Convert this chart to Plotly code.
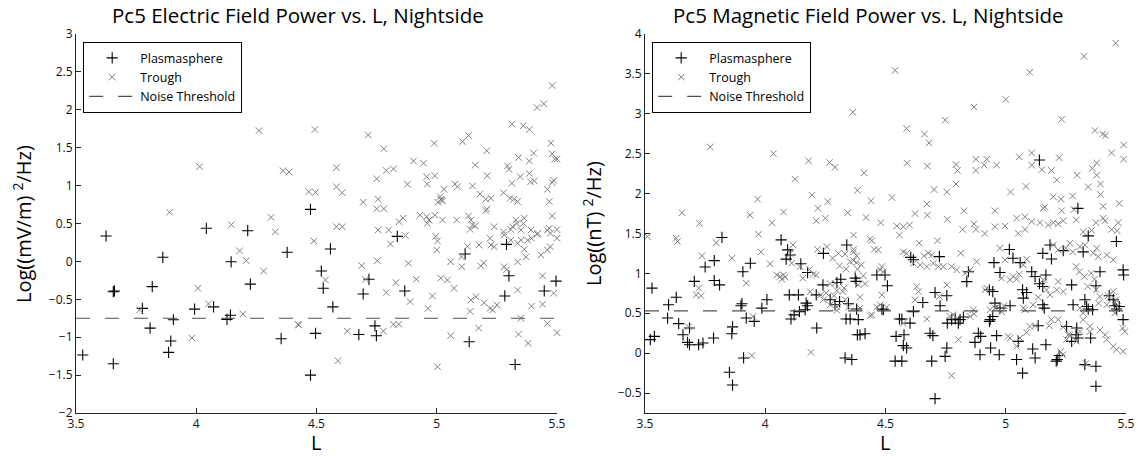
import plotly.graph_objects as go

# ---------------- data ----------------
# Electric field power, plasmasphere events: L shell and log10 power
e_plasma_L = [3.625, 3.655, 3.66, 3.861, 3.817, 3.776, 3.808, 3.905, 3.894, 3.885, 3.528, 3.655,
              3.993, 4.042, 4.072, 4.128, 4.142, 4.145, 4.214, 4.225, 4.378, 4.353, 4.475, 4.836,
              4.558, 4.52, 4.528, 4.568, 4.496, 4.475, 4.718, 4.694, 4.676, 4.743, 4.749, 4.867,
              5.118, 5.135, 5.29, 5.30, 5.283, 5.326, 5.447, 5.496]
e_plasma_pow = [0.335, -0.40, -0.39, 0.054, -0.333, -0.62, -0.88, -0.77, -1.05, -1.2, -1.235, -1.35,
                -0.63, 0.437, -0.60, -0.765, -0.71, -0.005, 0.405, -0.30, 0.12, -1.02, 0.687, 0.33,
                0.164, -0.127, -0.355, -0.60, -0.95, -1.5, -0.236, -0.43, -0.965, -0.85, -0.98, -0.39,
                0.098, -1.06, 0.225, -0.19, -0.456, -1.36, -0.39, -0.26]

# Electric field power, trough events
e_trough_L = [3.764, 4.007, 3.982, 4.051, 4.146, 4.18, 4.208, 4.194, 4.28, 4.329, 4.311, 4.424, 3.889,
              4.014, 4.261, 4.361, 4.386, 4.493, 4.715, 4.78, 4.989, 5.107, 5.132, 5.208, 5.3125, 5.36,
              5.385, 5.417, 5.445, 5.48, 5.475, 5.48, 5.49, 5.5, 5.403, 5.385, 5.34, 5.294, 5.30, 5.21,
              5.16, 4.903, 4.945, 4.583, 4.79, 4.82, 4.75, 4.878, 4.958, 4.992, 4.961, 5.03, 5.014,
              5.02, 5.076, 5.086, 5.149, 5.18, 5.204, 5.225, 5.204, 5.208, 5.278, 5.305, 5.32, 5.336,
              5.3125, 5.347, 5.385, 5.39, 5.406, 5.46, 5.48, 5.486, 5.468, 5.48, 5.468, 5.5, 4.468,
              4.496, 4.583, 4.607, 4.583, 4.607, 4.694, 4.756, 4.75, 4.78, 4.756, 4.80, 4.843, 4.86,
              4.93, 4.958, 4.968, 4.992, 4.961, 5.024, 5.083, 5.005, 5.017, 5.024, 5.132, 5.142, 5.149,
              5.16, 5.139, 5.239, 5.278, 5.308, 5.329, 5.364, 5.35, 5.392, 5.42, 5.46, 5.472,
              4.489, 4.688, 4.753, 4.704, 4.537, 4.808, 4.87, 4.83, 4.915, 4.79, 4.889, 4.882, 4.982,
              4.964, 4.996, 5.003, 5.0, 5.017, 5.044, 5.072, 5.058, 5.103, 5.104, 5.128, 5.176, 5.195,
              5.183, 5.222, 5.225, 5.239, 5.142, 5.163, 5.139, 5.197, 5.222, 5.232, 5.25, 5.174, 5.058,
              5.003, 5.28, 5.315, 5.333, 5.36, 5.308, 5.336, 5.35, 5.378, 5.394, 5.417, 5.472, 5.46,
              5.5, 5.433, 5.364, 5.371, 5.336, 5.28, 5.29, 5.336, 5.394, 5.44, 5.44, 5.486, 5.35, 5.46,
              5.5, 5.34, 5.38, 4.426, 4.628, 4.589, 4.778, 4.82, 4.843]
e_trough_pow = [-0.64, -0.355, -1.01, -0.56, 0.485, 0.14, 0.01, -0.694, -0.127, 0.39, 0.58, -0.83, 0.648,
                1.25, 1.725, 1.197, 1.18, 1.74, 1.667, 1.487, 1.558, 1.58, 1.66, 1.46, 1.81, 1.79,
                1.74, 2.03, 2.08, 2.32, 1.56, 1.42, 1.35, 1.35, 1.43, 1.325, 1.37, 1.26, 1.215, 1.13,
                1.27, 1.325, 1.295, 1.236, 1.2, 1.22, 1.09, 1.017, 1.117, 1.13, 1.02, 0.95, 0.854,
                0.81, 1.02, 0.985, 0.995, 0.89, 0.82, 0.833, 0.67, 0.69, 0.906, 0.832, 0.82, 0.79,
                1.03, 1.117, 1.16, 1.05, 1.06, 0.95, 1.04, 1.07, 0.79, 0.60, 0.437, 0.42, 0.92,
                0.91, 0.985, 0.906, 0.458, 0.458, 0.78, 0.82, 0.695, 0.695, 0.414, 0.414, 0.524, 0.57,
                0.61, 0.59, 0.546, 0.61, 0.503, 0.546, 0.546, 0.78, 0.82, 0.797, 0.60, 0.546, 0.48,
                0.467, 0.423, 0.458, 0.39, 0.42, 0.546, 0.57, 0.414, 0.414, 0.37, 0.414, 0.37,
                0.27, -0.057, 0.01, -0.236, -0.245, 0.23, 0.34, -0.28, -0.236, -0.41, -0.53, -0.025, -0.456,
                -0.62, 0.33, 0.27, 0.15, -0.22, -0.245, -0.355, -0.005, 0.06, -0.07, 0.2, 0.216, -0.02,
                -0.06, 0.305, 0.216, 0.194, -0.51, -0.466, -0.66, -0.545, -0.62, -0.64, -0.575, -0.88, -0.98,
                -1.39, 0.35, 0.458, 0.50, 0.50, 0.28, 0.24, 0.28, 0.28, 0.305, 0.36, 0.194, 0.15,
                0.305, 0.085, 0.16, 0.06, -0.005, -0.07, -0.11, -0.377, -0.59, -0.566, -0.19, -0.42, -0.75, -0.82,
                -0.94, -0.96, -1.08, -0.84, -0.92, -1.31, -0.92, -0.83, -0.83]

# Magnetic field power, plasmasphere events
b_plasma_L = [3.82, 4.066, 5.14, 5.30, 5.343, 5.46,
              3.529, 3.522, 3.539, 3.598, 3.63, 3.594, 3.64, 3.658, 3.685, 3.677, 3.685, 3.723, 3.741,
              3.705, 3.75, 3.788, 3.788, 3.81, 3.785, 3.864, 3.861, 3.851, 3.864, 3.907, 3.938, 3.903,
              3.899, 3.921, 3.954, 3.91, 3.986, 4.007, 4.093, 4.087, 4.104, 4.10, 4.138, 4.107, 4.12,
              4.142, 4.176, 4.17, 4.166, 4.176, 4.148, 4.214, 4.212, 4.242, 4.24, 4.27, 4.29, 4.309,
              4.298, 4.314, 4.339, 4.346, 4.336, 4.353, 4.332, 4.36, 4.374, 4.378, 4.38, 4.387, 4.383,
              4.464, 4.498, 4.508, 4.605, 4.616, 4.724, 4.845, 4.838, 4.394, 4.415, 4.485, 4.491, 4.558,
              4.568, 4.616, 4.602, 4.544, 4.577, 4.574, 4.588, 4.54, 4.568, 4.655, 4.706, 4.755, 4.727,
              4.685, 4.697, 4.692, 4.706, 4.755, 4.748, 4.757, 4.775, 4.79, 4.803, 4.81, 4.824, 4.886,
              4.896, 4.872, 4.893, 4.932, 4.946, 4.935, 4.946, 4.932, 4.951, 4.976, 4.955, 4.976, 5.018,
              4.962, 4.937, 4.973, 5.015, 5.03, 5.06, 5.07, 5.073, 5.087, 5.052, 5.045, 5.07, 5.108,
              5.122, 5.14, 5.154, 5.112, 5.122, 5.154, 5.16, 5.135, 5.167, 5.154, 5.184, 5.167, 5.19,
              5.214, 5.222, 5.21, 5.253, 5.274, 5.295, 5.301, 5.292, 5.274, 5.28, 5.239, 5.322, 5.329,
              5.336, 5.343, 5.361, 5.353, 5.375, 5.392, 5.329, 5.375, 5.375, 5.43, 5.447, 5.454, 5.461,
              5.472, 5.488, 5.49, 5.488]
b_plasma_pow = [1.45, 1.42, 2.42, 1.815, 1.47, 1.40,
                0.815, 0.17, 0.21, 0.606, 0.70, 0.44, 0.37, 0.23, 0.315, 0.135, 0.106, 0.106, 0.127,
                0.9, 1.08, 1.16, 0.91, 0.856, 0.19, 0.33, 0.244, -0.24, -0.40, 1.02, 1.127, 0.62,
                0.594, 0.44, 0.398, -0.06, 0.565, 0.67, 1.294, 1.178, 1.23, 0.73, 0.73, 0.428, 0.48,
                0.52, 0.594, 0.627, 0.544, 1.01, 1.12, 0.315, 0.73, 1.25, 0.856, 0.67, 0.606, 0.647,
                0.885, 0.927, 1.356, 0.62, 0.428, 0.428, -0.06, -0.08, 0.94, 0.9, 0.553, 0.42, 0.23,
                0.98, 0.98, 0.844, 1.2, 1.17, 1.21, 1.02, 0.897, 0.23, 0.244, 0.553, 0.544, 0.428,
                0.428, 0.52, 0.377, 0.21, 0.23, 0.094, 0.065, -0.1, -0.1, 0.635, 0.76, 0.72, 0.594,
                0.25, 0.22, -0.1, -0.57, 0.065, -0.04, 0.377, 0.42, 0.428, 0.377, 0.42, 0.453, 0.25,
                0.21, 0.135, -0.02, 0.794, 0.772, 0.42, 0.46, 0.398, 1.135, 1.01, 0.627, 0.565, 0.594,
                0.22, 0.065, -0.02, 1.30, 1.19, 1.135, 0.794, 0.69, 0.76, 0.148, -0.08, -0.25, 1.02,
                0.96, 0.87, 0.835, 0.053, -0.06, 0.606, 0.565, 0.344, 0.106, 1.25, 1.356, 0.98, 1.18,
                -0.08, -0.03, -0.1, 0.335, 0.148, 0.315, 0.19, 0.23, 0.856, 0.606, 1.285, 1.27, 0.67,
                0.585, 0.553, 0.544, 0.19, 0.844, 1.02, -0.144, -0.165, -0.415, 0.72, 0.67, 0.594, 0.553,
                0.585, 1.044, 0.98, 0.42]

# Magnetic field power, trough events
b_trough_L = [3.771, 4.034, 3.654, 3.727, 3.968, 3.937, 4.028, 4.076, 4.124, 4.18, 4.267, 4.29, 4.194,
              4.219, 4.26, 4.212, 4.25, 4.343, 4.364, 4.383, 4.367, 3.51, 3.63, 3.972,
              4.54, 4.748, 4.868, 5.0, 5.10, 5.325, 5.457, 5.232, 4.588, 4.662, 4.681, 5.371, 5.403,
              5.414, 5.49, 5.44, 5.49, 4.411, 4.59, 4.674, 4.793, 4.799, 4.876, 4.876, 4.91, 4.921,
              4.962, 5.056, 5.108, 5.108, 5.15, 5.19, 5.222, 5.212, 5.297, 5.36, 5.378, 5.378, 5.394,
              5.343, 5.394, 5.405, 5.278, 5.23, 5.198, 5.163, 5.156, 5.232, 5.284, 5.472, 4.44, 4.526,
              4.702, 4.755, 4.793, 5.02, 5.084, 4.672, 4.674, 4.826, 4.955, 4.623, 4.419, 4.48, 4.547,
              4.574, 4.6, 4.558, 4.757, 4.821, 4.868, 4.876, 4.913, 4.955, 4.997, 5.045, 5.08, 5.052,
              5.08, 5.108, 5.142, 5.177, 5.198, 5.218, 5.239, 5.293, 5.322, 5.357, 5.375, 5.405, 5.413,
              5.44, 5.468, 5.463, 4.436,
              3.635, 3.737, 3.723, 3.733, 3.713, 3.796, 3.861, 3.921, 3.982, 4.02, 4.048, 4.062, 4.076,
              4.083, 4.069, 4.115, 4.104, 4.11, 4.145, 4.156, 4.184, 4.2, 4.212, 4.187, 4.19, 4.217,
              4.256, 4.28, 4.304, 4.332, 4.367, 4.309, 4.353, 4.336, 4.367, 4.38, 4.27, 4.29, 4.298,
              4.328, 4.323, 4.286, 4.253, 4.231, 4.242, 4.27, 4.298, 4.346, 4.332, 4.298, 4.383, 4.387,
              3.949, 3.944, 3.681,
              4.443, 4.453, 4.47, 4.367, 4.38, 4.40, 4.408, 4.415, 4.394, 4.436, 4.394, 4.574, 4.588,
              4.64, 4.66, 4.678, 4.692, 4.699, 4.716, 4.74, 4.775, 4.796, 4.813, 4.831, 4.852, 4.72,
              4.616, 4.644, 4.672, 4.485, 4.478, 4.491, 4.485, 4.478, 4.505, 4.464, 4.443, 4.63, 4.637,
              4.623, 4.672, 4.574, 4.755, 4.724, 4.768, 4.782, 4.852, 4.865, 4.868, 4.775, 4.803, 4.879,
              4.921, 4.914, 4.955, 4.935, 4.965, 4.983, 4.993, 4.983, 5.018, 5.031, 5.045, 5.056, 5.073,
              5.087, 5.01, 5.018, 5.045, 5.059, 5.087, 5.073, 5.08, 5.114, 5.135, 5.10, 5.122, 5.181,
              5.19, 5.218, 5.239, 5.26, 5.253, 5.156, 5.17, 5.184, 5.212, 5.218, 5.239, 5.198, 5.218,
              5.25, 5.267, 5.278, 5.308, 5.329, 5.364, 5.378, 5.385, 5.42, 5.447, 5.293, 5.306, 5.327,
              5.355, 5.369, 5.341, 5.376, 5.391, 5.426, 5.447, 5.458, 5.464, 5.454, 5.42, 5.386, 5.308,
              5.322, 5.322, 5.35, 5.308, 5.267, 5.295, 5.35, 5.392, 5.413, 5.42, 5.447, 5.461, 5.488,
              5.486, 5.495, 5.333, 5.228, 5.237, 4.976, 4.997]
b_trough_pow = [2.585, 2.50, 1.76, 1.627, 1.93, 1.73, 1.635, 1.77, 2.18, 2.41, 2.39, 2.33, 1.98,
                1.815, 1.9, 1.66, 1.69, 1.76, 3.02, 2.04, 1.48, 1.46, 1.44, 1.49,
                3.544, 2.92, 3.085, 3.18, 3.52, 3.72, 3.885, 2.93, 2.815, 2.745, 2.635, 2.79, 2.745,
                2.73, 2.61, 2.51, 2.43, 2.26, 2.38, 2.345, 2.365, 2.29, 2.43, 2.29, 2.356, 2.43,
                2.356, 2.46, 2.51, 2.356, 2.30, 2.29, 2.45, 2.17, 2.23, 2.315, 2.385, 2.23, 2.12,
                2.085, 1.99, 1.84, 1.97, 1.93, 1.96, 1.83, 1.815, 1.785, 1.8, 1.875, 1.91, 1.95,
                2.05, 2.02, 2.12, 2.02, 2.09, 1.87, 1.73, 1.785, 1.785, 1.75, 1.70, 1.635, 1.594,
                1.585, 1.606, 1.48, 1.677, 1.55, 1.62, 1.55, 1.50, 1.585, 1.594, 1.69, 1.71, 1.50,
                1.55, 1.65, 1.635, 1.606, 1.635, 1.62, 1.66, 1.67, 1.52, 1.54, 1.635, 1.69, 1.66,
                1.55, 1.635, 1.535, 1.43,
                1.40, 1.22, 0.815, 0.72, 0.73, 1.385, 1.19, 0.877, 1.27, 1.12, 0.98, 0.96, 0.98,
                0.953, 0.927, 1.356, 1.25, 1.127, 1.085, 0.94, 1.05, 0.99, 0.98, 0.77, 0.01, 1.3,
                1.335, 1.19, 1.25, 1.243, 1.30, 1.094, 1.147, 1.053, 1.16, 1.135, 0.87, 0.877, 0.785,
                0.815, 0.772, 0.72, 0.753, 0.73, 0.67, 0.606, 0.577, 0.577, 0.67, 0.535, 1.053, 0.856,
                0.46, -0.03, 0.33,
                1.41, 1.30, 1.294, 1.27, 1.22, 1.106, 0.97, 0.87, 0.70, 0.47, 0.565, 1.27, 1.25,
                1.38, 1.22, 1.253, 1.23, 1.127, 1.41, 1.085, 1.085, 1.044, 1.253, 1.0, 1.044, 1.085,
                1.127, 1.106, 1.085, 1.085, 1.044, 1.02, 0.73, 0.606, 0.577, 0.577, 0.48, 0.835, 0.772,
                0.67, 0.428, 0.377, 0.856, 0.71, 0.46, 0.48, 0.46, 0.544, 0.494, -0.28, 0.17, 1.147,
                0.815, 0.794, 0.565, 0.544, 0.585, 0.52, 0.594, 0.94, 0.92, 0.96, 0.927, 0.99, 1.106,
                1.178, 0.21, 0.19, 0.085, 0.19, 0.26, 0.565, 0.544, 0.606, 0.70, 0.335, 0.344, 0.344,
                0.42, 0.42, 0.327, 0.23, 0.17, 0.92, 0.794, 0.73, 0.794, 0.897, 0.772, 1.356, 1.294,
                1.315, 1.378, 1.27, 1.335, 1.356, 1.253, 1.315, 1.21, 1.23, 1.17, 1.085, 1.02, 0.96,
                1.0, 0.927, 0.835, 0.794, 0.71, 0.72, 0.772, 0.67, 0.585, 0.50, 0.606, 0.627, 0.565,
                0.50, 0.42, 0.335, 0.27, 0.23, 0.148, 0.27, 0.29, 0.23, 0.17, 0.085, 0.044, 0.023,
                0.315, 0.27, -0.13, 0.02, -0.02, 1.315, 1.17]

# Noise thresholds (log power) and the L range they span
noise_L = [3.5, 5.5]
noise_e = -0.75
noise_b = 0.53

titles = ["Pc5 Electric Field Power vs. L, Nightside",
          "Pc5 Magnetic Field Power vs. L, Nightside"]
ylabels = ["Log((mV/m) <sup>2</sup>/Hz)", "Log((nT) <sup>2</sup>/Hz)"]
x_ticks = [3.5, 4, 4.5, 5, 5.5]
x_ticktext = ["3.5", "4", "4.5", "5", "5.5"]

# ---------------- figure ----------------
W, H = 1138, 459
FONT = "Open Sans"
PLUS_COLOR = "black"
CROSS_COLOR = "#808080"
NOISE_COLOR = "#505050"

fig = go.Figure()


def add_panel(xa, ya, legend, pL, pP, tL, tP, noise):
    fig.add_trace(go.Scatter(
        x=pL, y=pP, mode="markers", name="Plasmasphere", xaxis=xa, yaxis=ya, legend=legend,
        cliponaxis=False,
        marker=dict(symbol="cross-thin", size=8, color=PLUS_COLOR,
                    line=dict(color=PLUS_COLOR, width=1.1))))
    fig.add_trace(go.Scatter(
        x=tL, y=tP, mode="markers", name="Trough", xaxis=xa, yaxis=ya, legend=legend,
        cliponaxis=False,
        marker=dict(symbol="x-thin", size=6.5, color=CROSS_COLOR,
                    line=dict(color=CROSS_COLOR, width=1))))
    fig.add_trace(go.Scatter(
        x=noise_L, y=[noise, noise], mode="lines", name="Noise Threshold", xaxis=xa, yaxis=ya,
        legend=legend, line=dict(color=NOISE_COLOR, width=1.1, dash="14px,15px")))


add_panel("x", "y", "legend", e_plasma_L, e_plasma_pow, e_trough_L, e_trough_pow, noise_e)
add_panel("x2", "y2", "legend2", b_plasma_L, b_plasma_pow, b_trough_L, b_trough_pow, noise_b)

# plot areas in pixels
left_px = (76, 557)
right_px = (645, 1126)
top_px, bot_px = 34, 413
ydom = [1 - bot_px / H, 1 - top_px / H]

axis_common = dict(showgrid=False, zeroline=False, showline=True, linecolor="#222222",
                   linewidth=1, ticks="inside", ticklen=5, tickcolor="#222222",
                   tickfont=dict(family=FONT, size=12, color="#111111"), automargin=False)

legend_common = dict(xanchor="left", yanchor="top", bordercolor="black", borderwidth=1.2,
                     bgcolor="white", font=dict(family=FONT, size=12.5),
                     tracegroupgap=0, itemwidth=46)

fig.update_layout(
    width=W, height=H,
    margin=dict(l=0, r=0, t=0, b=0),
    paper_bgcolor="white", plot_bgcolor="white",
    font=dict(family=FONT, color="black"),
    xaxis=dict(domain=[left_px[0] / W, left_px[1] / W], range=[3.5, 5.5],
               tickvals=x_ticks, ticktext=x_ticktext, anchor="y", **axis_common),
    yaxis=dict(domain=ydom, range=[-2, 3], dtick=0.5, tick0=0, anchor="x", **axis_common),
    xaxis2=dict(domain=[right_px[0] / W, right_px[1] / W], range=[3.5, 5.5],
                tickvals=x_ticks, ticktext=x_ticktext, anchor="y2", **axis_common),
    yaxis2=dict(domain=ydom, range=[-0.75, 4], dtick=0.5, tick0=0, anchor="x2", **axis_common),
    legend=dict(x=83 / W, y=1 - 42 / H, **legend_common),
    legend2=dict(x=652 / W, y=1 - 42 / H, **legend_common),
    showlegend=True,
)

annotations = []
for cx, title in zip([298, 868], titles):
    annotations.append(dict(x=cx / W, y=1 - 15 / H, xref="paper", yref="paper",
                            text=title, showarrow=False, xanchor="center", yanchor="middle",
                            font=dict(family=FONT, size=20.5, color="black")))
for (l, r) in [left_px, right_px]:
    annotations.append(dict(x=((l + r) / 2 - 1) / W, y=1 - 442 / H, xref="paper", yref="paper",
                            text="L", showarrow=False, xanchor="center", yanchor="middle",
                            font=dict(family=FONT, size=20, color="black")))
for cx, lab in zip([22, 592], ylabels):
    annotations.append(dict(x=cx / W, y=1 - 224 / H, xref="paper", yref="paper",
                            text=lab, showarrow=False, textangle=-90,
                            xanchor="center", yanchor="middle",
                            font=dict(family=FONT, size=20, color="black")))
fig.update_layout(annotations=annotations)

fig.write_html("out.html")
